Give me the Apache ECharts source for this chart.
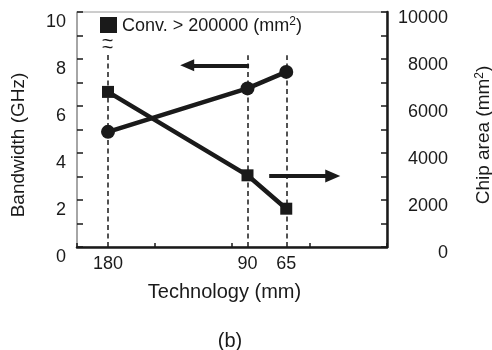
<!DOCTYPE html>
<html><head><meta charset="utf-8">
<script src="https://cdn.jsdelivr.net/npm/echarts@6/dist/echarts.min.js"></script>
<style>html,body{margin:0;padding:0;background:#fff}#c{width:492px;height:350px}</style>
</head><body><div id="c"></div>
<script>
// ---- data ----
const technology = [180, 90, 65];           // nm nodes (x values)
const bandwidth = [4.9, 6.75, 7.45];        // GHz, left axis (circles)
const chipArea = [6600, 3050, 1630];        // mm^2, right axis (squares)
const xTickValues = [0, 50, 100, 150, 200];
const leftTickLabels = ['0', '2', '4', '6', '8', '10'];
const rightTickLabels = ['0', '2000', '4000', '6000', '8000', '10000'];
const guideTops = [8.2, 8.16, 8.16];        // top of dashed guide lines (left-axis units)

const FONT = 'Liberation Sans, Arial, sans-serif';
const INK = '#1a1a1a';

const chart = echarts.init(document.getElementById('c'), null, {renderer: 'canvas'});

const bwData = technology.map((t, i) => [t, bandwidth[i]]);
const caData = technology.map((t, i) => [t, chipArea[i]]);

const guideLines = technology.map((t, i) => [
  {coord: [t, 0], symbol: 'none'},
  {coord: [t, guideTops[i]], symbol: 'none'}
]);

const option = {
  animation: false,
  grid: {left: 77, right: 105, top: 12, bottom: 103, show: true, borderColor: '#9a9a9a', borderWidth: 1},
  xAxis: {
    type: 'value', inverse: true, min: 0, max: 200, interval: 50,
    axisLine: {show: true, onZero: false, lineStyle: {color: INK, width: 2.5}},
    axisTick: {show: true, inside: true, length: 4, customValues: xTickValues, lineStyle: {color: INK, width: 1.5}},
    axisLabel: {show: true, customValues: technology, color: INK, fontFamily: FONT, fontSize: 18, margin: 8},
    splitLine: {show: false}
  },
  yAxis: [
    {
      type: 'value', min: 0, max: 10, interval: 1, position: 'left',
      axisLine: {show: true, onZero: false, lineStyle: {color: '#9a9a9a', width: 1.5}},
      axisTick: {show: true, inside: true, length: 6, lineStyle: {color: INK, width: 1.5}},
      axisLabel: {
        color: INK, fontFamily: FONT, fontSize: 18, margin: 11,
        verticalAlign: 'top', lineHeight: 21,
        formatter: v => (v % 2 === 0 ? leftTickLabels[v / 2] : '')
      },
      splitLine: {show: false}
    },
    {
      type: 'value', min: 0, max: 10000, interval: 1000, position: 'right',
      axisLine: {show: true, onZero: false, lineStyle: {color: INK, width: 2.5}},
      axisTick: {show: true, inside: true, length: 6, lineStyle: {color: INK, width: 1.5}},
      axisLabel: {
        color: INK, fontFamily: FONT, fontSize: 18, margin: 61, align: 'right',
        verticalAlign: 'top', lineHeight: 13,
        formatter: v => (v % 2000 === 0 ? rightTickLabels[v / 2000] : '')
      },
      splitLine: {show: false}
    }
  ],
  series: [
    {
      name: 'Bandwidth', type: 'line', yAxisIndex: 0, data: bwData,
      symbol: 'circle', symbolSize: 14,
      lineStyle: {color: INK, width: 4.5}, itemStyle: {color: INK},
      z: 5,
      markLine: {
        silent: true, animation: false, symbol: 'none',
        label: {show: false},
        lineStyle: {color: INK, width: 1.5, type: [5, 3.5]},
        data: guideLines
      }
    },
    {
      name: 'Chip area', type: 'line', yAxisIndex: 1, data: caData,
      symbol: 'rect', symbolSize: 12,
      lineStyle: {color: INK, width: 4.5}, itemStyle: {color: INK},
      z: 5
    },
    {
      // left arrow (points to bandwidth axis)
      name: 'arrowL', type: 'line', yAxisIndex: 0, data: [],
      markLine: {
        silent: true, animation: false,
        symbol: ['none', 'triangle'], symbolSize: [12, 14],
        label: {show: false},
        lineStyle: {color: INK, width: 4, type: 'solid'},
        data: [[{coord: [89, 7.73]}, {coord: [128.9, 7.73]}]]
      }
    },
    {
      // right arrow (points to chip-area axis)
      name: 'arrowR', type: 'line', yAxisIndex: 1, data: [],
      markLine: {
        silent: true, animation: false,
        symbol: ['none', 'triangle'], symbolSize: [13, 15],
        label: {show: false},
        lineStyle: {color: INK, width: 4, type: 'solid'},
        data: [[{coord: [76, 3020]}, {coord: [35, 3020]}]]
      }
    }
  ],
  graphic: [
    {type: 'rect', shape: {x: 100, y: 17, width: 17, height: 16}, style: {fill: INK}},
    {type: 'text', x: 122, y: 26, style: {
      text: 'Conv. > 200000 (mm{sup|2})', fill: INK, font: '18px ' + FONT, verticalAlign: 'middle',
      rich: {sup: {fontSize: 12, fontFamily: FONT, fill: INK, padding: [0, 0, 9, 0]}}
    }},
    {type: 'text', x: 107.5, y: 45, style: {text: '~\n~', fill: INK, font: '20px ' + FONT, lineHeight: 7, align: 'center', verticalAlign: 'middle'}},
    {type: 'text', x: 19, y: 145, rotation: Math.PI / 2, style: {text: 'Bandwidth (GHz)', fill: INK, font: '19px ' + FONT, align: 'center', verticalAlign: 'middle'}},
    {type: 'text', x: 484, y: 135, rotation: Math.PI / 2, style: {
      text: 'Chip area (mm{sup|2})', fill: INK, font: '19px ' + FONT, align: 'center', verticalAlign: 'middle',
      rich: {sup: {fontSize: 12, fontFamily: FONT, fill: INK, padding: [0, 0, 9, 0]}}
    }},
    {type: 'text', x: 224.5, y: 292, style: {text: 'Technology (mm)', fill: INK, font: '20px ' + FONT, align: 'center', verticalAlign: 'middle'}},
    {type: 'text', x: 230, y: 341, style: {text: '(b)', fill: INK, font: '20px ' + FONT, align: 'center', verticalAlign: 'middle'}}
  ]
};
chart.setOption(option);
</script>
</body></html>
